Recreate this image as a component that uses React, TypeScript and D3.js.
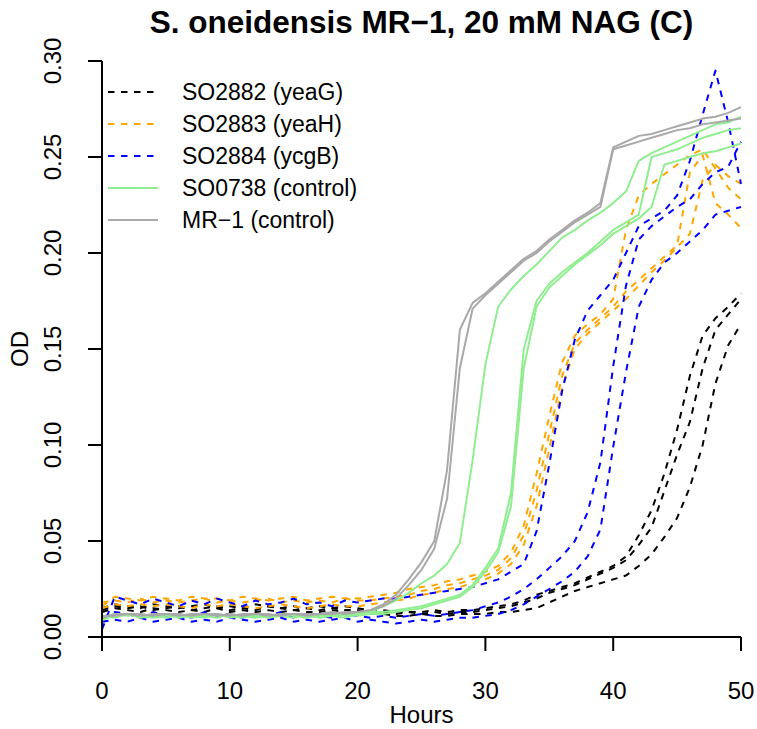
import React from "react";
import * as d3 from "d3";

// sampling times (hours)
const hours = [
  0, 1, 2, 3, 4, 5, 6, 7, 8, 9, 10, 11, 12, 13, 14, 15, 16, 17, 18, 19, 20, 21, 22, 23, 24, 25,
  26, 27, 28, 29, 30, 31, 32, 33, 34, 35, 36, 37, 38, 39, 40, 41, 42, 43, 44, 45, 46, 47, 48, 49, 50,
];

// SO2882 (yeaG) replicates
const so2882a = [
  0.015, 0.017, 0.016, 0.015, 0.017, 0.016, 0.015, 0.016, 0.017, 0.015,
  0.016, 0.015, 0.017, 0.016, 0.015, 0.016, 0.015, 0.016, 0.015, 0.016,
  0.015, 0.014, 0.014, 0.013, 0.013, 0.013, 0.014, 0.013, 0.014, 0.014,
  0.015, 0.016, 0.017, 0.019, 0.022, 0.024, 0.026, 0.028, 0.031, 0.034,
  0.037, 0.042, 0.053, 0.066, 0.085, 0.108, 0.136, 0.157, 0.166, 0.172,
  0.179,
];
const so2882b = [
  0.014, 0.016, 0.015, 0.016, 0.014, 0.015, 0.016, 0.014, 0.015, 0.016,
  0.014, 0.015, 0.014, 0.016, 0.015, 0.014, 0.015, 0.014, 0.015, 0.014,
  0.014, 0.013, 0.013, 0.012, 0.013, 0.012, 0.013, 0.012, 0.013, 0.013,
  0.014, 0.015, 0.016, 0.018, 0.020, 0.023, 0.025, 0.027, 0.030, 0.033,
  0.036, 0.040, 0.048, 0.057, 0.076, 0.095, 0.112, 0.140, 0.160, 0.168,
  0.176,
];
const so2882c = [
  0.013, 0.015, 0.014, 0.013, 0.015, 0.014, 0.013, 0.014, 0.013, 0.015,
  0.013, 0.014, 0.013, 0.014, 0.013, 0.014, 0.013, 0.013, 0.014, 0.013,
  0.013, 0.012, 0.012, 0.011, 0.011, 0.012, 0.011, 0.011, 0.012, 0.012,
  0.012, 0.013, 0.013, 0.014, 0.015, 0.018, 0.021, 0.024, 0.026, 0.028,
  0.030, 0.032, 0.037, 0.043, 0.052, 0.062, 0.078, 0.100, 0.132, 0.152,
  0.163,
];

// SO2883 (yeaH) replicates
const so2883a = [
  0.016, 0.021, 0.020, 0.019, 0.021, 0.020, 0.019, 0.021, 0.020, 0.020,
  0.019, 0.021, 0.020, 0.019, 0.020, 0.021, 0.019, 0.020, 0.021, 0.020,
  0.020, 0.021, 0.022, 0.023, 0.025, 0.026, 0.027, 0.029, 0.030, 0.032,
  0.034, 0.037, 0.044, 0.058, 0.085, 0.115, 0.143, 0.157, 0.163, 0.168,
  0.176, 0.212, 0.230, 0.236, 0.241, 0.246, 0.251, 0.254, 0.244, 0.234,
  0.228,
];
const so2883b = [
  0.018, 0.019, 0.018, 0.020, 0.018, 0.019, 0.018, 0.019, 0.020, 0.018,
  0.019, 0.018, 0.019, 0.020, 0.018, 0.019, 0.018, 0.019, 0.018, 0.020,
  0.019, 0.019, 0.020, 0.021, 0.022, 0.024, 0.025, 0.027, 0.028, 0.030,
  0.032, 0.035, 0.041, 0.053, 0.076, 0.106, 0.136, 0.153, 0.160, 0.166,
  0.172, 0.180, 0.186, 0.192, 0.198, 0.204, 0.242, 0.251, 0.226, 0.220,
  0.213,
];
const so2883c = [
  0.015, 0.017, 0.016, 0.017, 0.016, 0.017, 0.016, 0.015, 0.017, 0.016,
  0.017, 0.016, 0.015, 0.016, 0.017, 0.016, 0.015, 0.016, 0.017, 0.016,
  0.016, 0.017, 0.018, 0.019, 0.020, 0.022, 0.023, 0.025, 0.026, 0.028,
  0.030, 0.033, 0.038, 0.048, 0.068, 0.098, 0.130, 0.150, 0.158, 0.164,
  0.170, 0.176, 0.183, 0.190, 0.196, 0.203, 0.210, 0.238, 0.246, 0.240,
  0.236,
];

// SO2884 (ycgB) replicates
const so2884a = [
  0.004, 0.021, 0.019, 0.017, 0.020, 0.018, 0.016, 0.019, 0.017, 0.020,
  0.018, 0.016, 0.019, 0.017, 0.018, 0.020, 0.017, 0.018, 0.016, 0.019,
  0.018, 0.019, 0.020, 0.020, 0.021, 0.022, 0.023, 0.024, 0.025, 0.026,
  0.028, 0.030, 0.034, 0.038, 0.055, 0.090, 0.128, 0.155, 0.170, 0.178,
  0.186, 0.200, 0.214, 0.218, 0.222, 0.230, 0.248, 0.272, 0.295, 0.268,
  0.236,
];
const so2884b = [
  0.010, 0.013, 0.012, 0.010, 0.013, 0.011, 0.012, 0.010, 0.013, 0.011,
  0.012, 0.010, 0.012, 0.011, 0.013, 0.010, 0.012, 0.011, 0.010, 0.012,
  0.011, 0.010, 0.011, 0.010, 0.011, 0.012, 0.011, 0.012, 0.013, 0.014,
  0.016, 0.018, 0.021, 0.025, 0.030, 0.036, 0.042, 0.050, 0.065, 0.091,
  0.141, 0.183, 0.207, 0.214, 0.219, 0.224, 0.228, 0.236, 0.242, 0.245,
  0.258,
];
const so2884c = [
  0.008, 0.009, 0.008, 0.010, 0.008, 0.009, 0.010, 0.008, 0.009, 0.008,
  0.010, 0.009, 0.008, 0.009, 0.010, 0.008, 0.009, 0.008, 0.009, 0.010,
  0.008, 0.009, 0.008, 0.007, 0.008, 0.009, 0.008, 0.009, 0.010, 0.010,
  0.011, 0.012, 0.014, 0.017, 0.021, 0.025, 0.029, 0.034, 0.042, 0.056,
  0.099, 0.138, 0.172, 0.186, 0.195, 0.200, 0.206, 0.212, 0.220, 0.222,
  0.224,
];

// SO0738 (control) replicates
const so0738a = [
  0.009, 0.011, 0.012, 0.011, 0.010, 0.011, 0.012, 0.010, 0.011, 0.012,
  0.011, 0.010, 0.012, 0.011, 0.011, 0.012, 0.010, 0.011, 0.012, 0.011,
  0.013, 0.013, 0.016, 0.019, 0.023, 0.028, 0.032, 0.038, 0.049, 0.092,
  0.142, 0.172, 0.181, 0.188, 0.194, 0.201, 0.208, 0.212, 0.217, 0.221,
  0.226, 0.232, 0.248, 0.252, 0.255, 0.258, 0.261, 0.264, 0.267, 0.268,
  0.271,
];
const so0738b = [
  0.010, 0.012, 0.011, 0.012, 0.011, 0.010, 0.011, 0.012, 0.011, 0.010,
  0.012, 0.011, 0.010, 0.011, 0.012, 0.011, 0.010, 0.012, 0.011, 0.010,
  0.012, 0.013, 0.013, 0.014, 0.015, 0.016, 0.018, 0.020, 0.022, 0.027,
  0.036, 0.046, 0.075, 0.150, 0.175, 0.184, 0.190, 0.195, 0.200, 0.206,
  0.212, 0.216, 0.220, 0.250, 0.252, 0.254, 0.257, 0.260, 0.262, 0.264,
  0.265,
];
const so0738c = [
  0.011, 0.010, 0.012, 0.010, 0.011, 0.012, 0.010, 0.011, 0.010, 0.012,
  0.010, 0.011, 0.011, 0.010, 0.011, 0.010, 0.012, 0.010, 0.011, 0.012,
  0.011, 0.012, 0.012, 0.013, 0.014, 0.015, 0.017, 0.019, 0.021, 0.026,
  0.034, 0.044, 0.068, 0.140, 0.172, 0.182, 0.188, 0.194, 0.199, 0.204,
  0.210, 0.214, 0.218, 0.224, 0.246, 0.248, 0.250, 0.252, 0.253, 0.255,
  0.257,
];

// MR-1 (control) replicates
const mr1a = [
  0.010, 0.012, 0.012, 0.011, 0.012, 0.012, 0.011, 0.012, 0.012, 0.011,
  0.012, 0.011, 0.012, 0.012, 0.011, 0.012, 0.012, 0.012, 0.013, 0.012,
  0.013, 0.014, 0.017, 0.022, 0.030, 0.039, 0.050, 0.087, 0.160, 0.174,
  0.179, 0.185, 0.191, 0.197, 0.201, 0.207, 0.212, 0.217, 0.221, 0.226,
  0.255, 0.258, 0.261, 0.262, 0.264, 0.266, 0.268, 0.270, 0.271, 0.273,
  0.276,
];
const mr1b = [
  0.011, 0.011, 0.012, 0.012, 0.011, 0.012, 0.012, 0.011, 0.012, 0.012,
  0.011, 0.012, 0.012, 0.011, 0.012, 0.012, 0.011, 0.012, 0.012, 0.013,
  0.013, 0.014, 0.016, 0.020, 0.027, 0.035, 0.046, 0.072, 0.140, 0.171,
  0.178, 0.184, 0.190, 0.196, 0.200, 0.206, 0.211, 0.216, 0.220, 0.224,
  0.254, 0.256, 0.258, 0.260, 0.262, 0.264, 0.265, 0.267, 0.268, 0.269,
  0.270,
];

const strains = [
  { label: "SO2882 (yeaG)", color: "#000000", dashed: true, reps: [so2882a, so2882b, so2882c] },
  { label: "SO2883 (yeaH)", color: "#FFA500", dashed: true, reps: [so2883a, so2883b, so2883c] },
  { label: "SO2884 (ycgB)", color: "#0000FF", dashed: true, reps: [so2884a, so2884b, so2884c] },
  { label: "SO0738 (control)", color: "#90EE90", dashed: false, reps: [so0738a, so0738b, so0738c] },
  { label: "MR\u22121 (control)", color: "#A9A9A9", dashed: false, reps: [mr1a, mr1b] },
];

const xTicks = [0, 10, 20, 30, 40, 50];
const yTicks = [0, 0.05, 0.1, 0.15, 0.2, 0.25, 0.3];

const W = 757;
const H = 729;
const font = "'Liberation Sans', Arial, Helvetica, sans-serif";
const dash = "6.5,6.5";

export default function App() {
  const x = d3.scaleLinear().domain([0, 50]).range([102, 741]);
  const y = d3.scaleLinear().domain([0, 0.3]).range([637, 61]);
  const line = d3
    .line<number>()
    .x((_, i) => x(hours[i]))
    .y((d) => y(d));

  const tick = 14;

  return (
    <svg
      width={W}
      height={H}
      style={{ position: "absolute", left: 0, top: 0, background: "#fff", display: "block" }}
      fontFamily={font}
    >
      <rect width={W} height={H} fill="#fff" />
      {/* curves */}
      <g fill="none" strokeWidth={2} strokeLinejoin="round">
        {strains.map((s) =>
          s.reps.map((r, j) => (
            <path
              key={s.label + j}
              d={line(r) || ""}
              stroke={s.color}
              strokeDasharray={s.dashed ? dash : undefined}
            />
          ))
        )}
      </g>

      {/* axes */}
      <g stroke="#000" strokeWidth={2} fill="none">
        <line x1={x(0)} x2={x(0)} y1={y(0)} y2={y(0.3)} />
        <line x1={x(0)} x2={x(50)} y1={y(0)} y2={y(0)} />
        {yTicks.map((t) => (
          <line key={"yt" + t} x1={x(0) - tick} x2={x(0)} y1={y(t)} y2={y(t)} />
        ))}
        {xTicks.map((t) => (
          <line key={"xt" + t} x1={x(t)} x2={x(t)} y1={y(0)} y2={y(0) + tick} />
        ))}
      </g>
      <g fontSize={24} fill="#000">
        {yTicks.map((t) => (
          <text
            key={"yl" + t}
            transform={`translate(61,${y(t)}) rotate(-90)`}
            textAnchor="middle"
          >
            {d3.format(".2f")(t)}
          </text>
        ))}
        {xTicks.map((t) => (
          <text key={"xl" + t} x={x(t)} y={699} textAnchor="middle">
            {t}
          </text>
        ))}
        <text x={(x(0) + x(50)) / 2} y={723} textAnchor="middle">
          Hours
        </text>
        <text transform={`translate(28,${(y(0) + y(0.3)) / 2}) rotate(-90)`} textAnchor="middle">
          OD
        </text>
      </g>
      <text
        x={(x(0) + x(50)) / 2}
        y={33}
        textAnchor="middle"
        fontSize={31.5}
        fontWeight="bold"
      >
        S. oneidensis MR{"\u2212"}1, 20 mM NAG (C)
      </text>

      {/* legend */}
      <g>
        {strains.map((s, i) => (
          <g key={"lg" + i} transform={`translate(0,${92 + i * 32})`}>
            <line
              x1={108}
              x2={158}
              y1={0}
              y2={0}
              stroke={s.color}
              strokeWidth={2}
              strokeDasharray={s.dashed ? dash : undefined}
            />
            <text x={182} y={0} dy="0.35em" fontSize={23}>
              {s.label}
            </text>
          </g>
        ))}
      </g>
    </svg>
  );
}
